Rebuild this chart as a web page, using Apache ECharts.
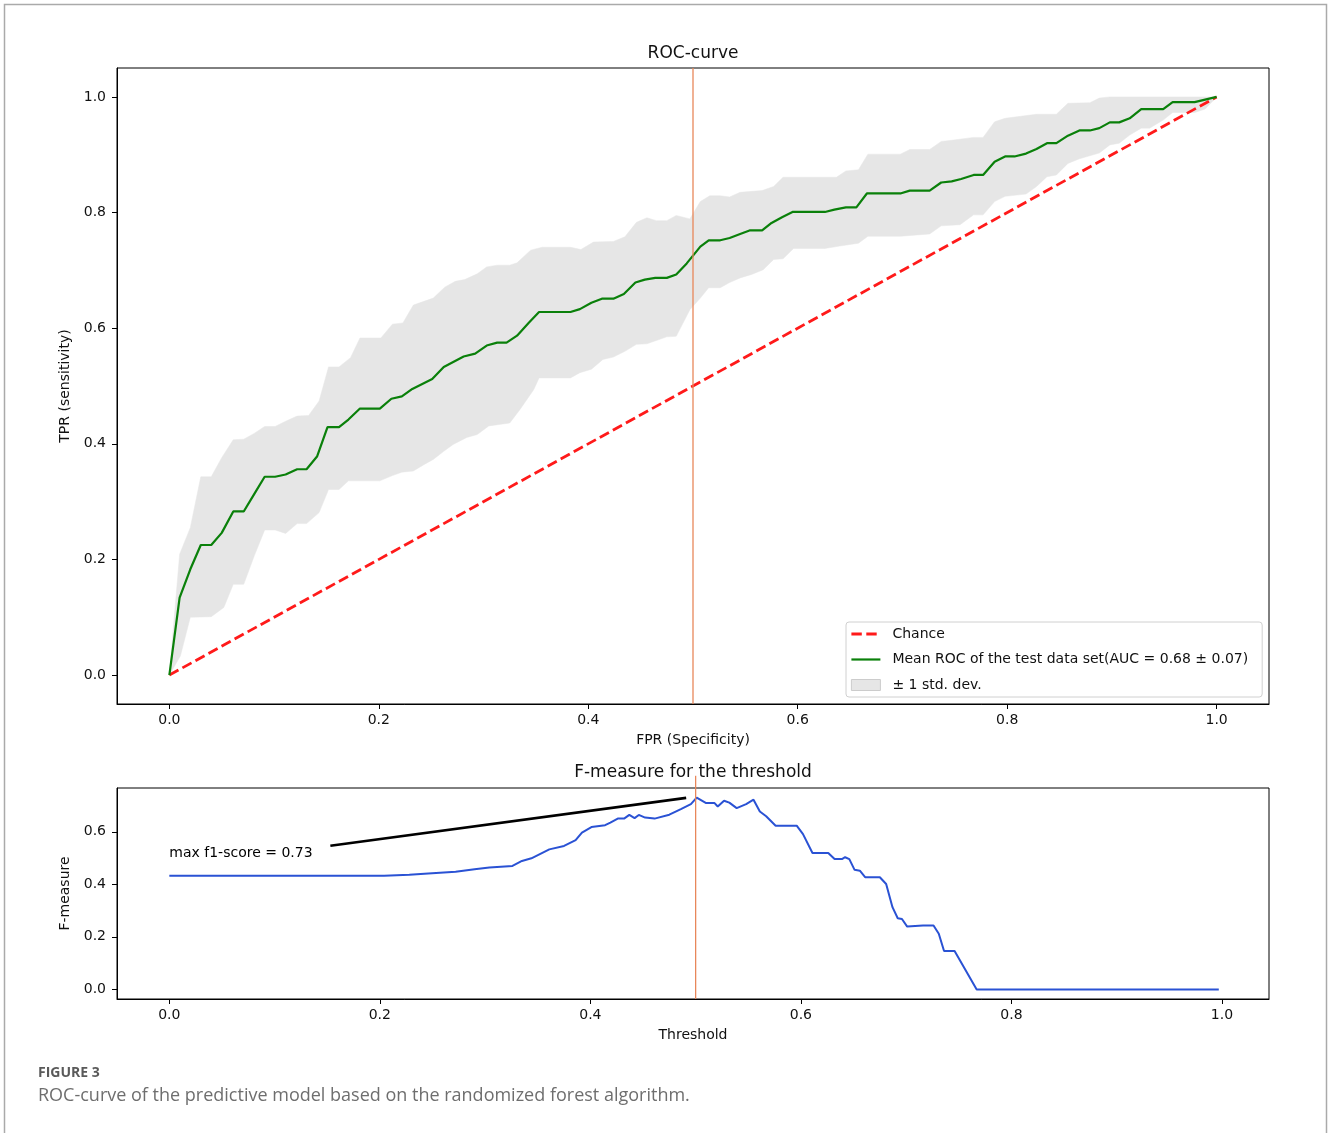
<!DOCTYPE html>
<html>
<head>
<meta charset="utf-8">
<script src="https://cdn.jsdelivr.net/npm/echarts@6/dist/echarts.min.js"></script>
<style>
html,body{margin:0;padding:0;background:#fff;}
#chart{width:1330px;height:1133px;}
</style>
</head>
<body>
<div id="chart"></div>
<script>
// ---------- DATA ----------
const xTicks = [0, 0.2, 0.4, 0.6, 0.8, 1.0];
const rocYTicks = [0, 0.2, 0.4, 0.6, 0.8, 1.0];
const fYTicks = [0, 0.2, 0.4, 0.6];

const chanceFpr = [0, 1];
const chanceTpr = [0, 1];

const meanFpr = [0,0.0098,0.020,0.030,0.040,0.050,0.061,0.071,0.081,0.091,0.101,0.111,0.122,0.131,0.141,0.151,0.162,0.171,0.182,0.201,0.212,0.222,0.232,0.251,0.262,0.281,0.292,0.303,0.313,0.322,0.332,0.343,0.353,0.383,0.392,0.403,0.413,0.424,0.434,0.445,0.454,0.464,0.475,0.484,0.494,0.507,0.515,0.526,0.535,0.545,0.554,0.566,0.575,0.585,0.595,0.626,0.635,0.646,0.656,0.666,0.698,0.707,0.726,0.737,0.747,0.756,0.768,0.777,0.788,0.798,0.807,0.818,0.828,0.838,0.847,0.858,0.869,0.879,0.888,0.898,0.907,0.917,0.928,0.949,0.958,0.979,1.0];
const meanTpr = [0,0.134,0.183,0.225,0.225,0.246,0.283,0.283,0.313,0.343,0.343,0.347,0.356,0.356,0.378,0.429,0.429,0.442,0.461,0.461,0.478,0.482,0.495,0.512,0.533,0.551,0.556,0.570,0.575,0.575,0.587,0.609,0.628,0.628,0.633,0.644,0.651,0.651,0.659,0.679,0.684,0.687,0.687,0.693,0.712,0.741,0.752,0.752,0.756,0.763,0.769,0.769,0.782,0.792,0.801,0.801,0.805,0.809,0.809,0.833,0.833,0.838,0.838,0.852,0.854,0.858,0.865,0.865,0.888,0.897,0.897,0.902,0.910,0.920,0.920,0.933,0.942,0.942,0.946,0.956,0.956,0.963,0.979,0.979,0.991,0.991,1.0];

const upperFpr = [0,0.0098,0.020,0.030,0.040,0.050,0.061,0.071,0.081,0.091,0.101,0.111,0.122,0.133,0.143,0.152,0.162,0.173,0.182,0.202,0.213,0.223,0.233,0.252,0.263,0.273,0.282,0.294,0.303,0.313,0.325,0.332,0.345,0.356,0.383,0.393,0.405,0.424,0.435,0.446,0.456,0.465,0.475,0.484,0.497,0.507,0.516,0.526,0.535,0.545,0.566,0.577,0.586,0.637,0.646,0.658,0.667,0.698,0.707,0.726,0.737,0.747,0.768,0.777,0.788,0.798,0.828,0.847,0.858,0.879,0.888,0.898,1.0];
const upperTpr = [0,0.209,0.255,0.343,0.343,0.376,0.407,0.408,0.418,0.430,0.430,0.439,0.448,0.449,0.474,0.533,0.533,0.549,0.583,0.583,0.607,0.609,0.640,0.652,0.671,0.681,0.684,0.694,0.706,0.709,0.709,0.713,0.735,0.740,0.740,0.736,0.749,0.750,0.758,0.783,0.791,0.786,0.786,0.795,0.789,0.819,0.829,0.829,0.827,0.835,0.838,0.845,0.861,0.861,0.872,0.874,0.901,0.901,0.909,0.909,0.923,0.925,0.930,0.930,0.957,0.963,0.970,0.970,0.989,0.990,0.998,1.0,1.0];

const lowerFpr = [0,0.0105,0.020,0.040,0.052,0.061,0.071,0.081,0.091,0.101,0.111,0.122,0.131,0.143,0.152,0.162,0.171,0.201,0.213,0.222,0.233,0.243,0.252,0.262,0.271,0.284,0.294,0.305,0.325,0.335,0.348,0.353,0.383,0.392,0.403,0.414,0.424,0.435,0.446,0.456,0.467,0.475,0.484,0.497,0.507,0.515,0.526,0.535,0.545,0.556,0.567,0.577,0.586,0.596,0.626,0.640,0.658,0.667,0.698,0.726,0.737,0.755,0.768,0.777,0.788,0.798,0.818,0.828,0.838,0.847,0.858,0.869,0.888,0.898,0.907,0.917,0.928,0.936,0.949,0.958,0.979,0.989,1.0];
const lowerTpr = [0,0.033,0.100,0.101,0.117,0.157,0.157,0.206,0.251,0.251,0.245,0.262,0.262,0.281,0.321,0.321,0.336,0.336,0.345,0.351,0.353,0.364,0.373,0.387,0.399,0.411,0.416,0.431,0.436,0.460,0.494,0.514,0.514,0.523,0.529,0.546,0.550,0.560,0.572,0.573,0.580,0.585,0.586,0.632,0.652,0.670,0.670,0.679,0.687,0.693,0.701,0.719,0.720,0.738,0.738,0.742,0.747,0.759,0.759,0.763,0.777,0.779,0.796,0.796,0.819,0.828,0.832,0.845,0.862,0.865,0.885,0.893,0.903,0.917,0.920,0.934,0.946,0.946,0.960,0.973,0.973,0.979,1.0];

const thresholds = [0,0.204,0.228,0.246,0.272,0.290,0.304,0.326,0.335,0.344,0.361,0.375,0.386,0.392,0.401,0.414,0.419,0.426,0.432,0.437,0.442,0.446,0.452,0.461,0.475,0.486,0.4955,0.501,0.510,0.518,0.521,0.527,0.532,0.539,0.548,0.555,0.561,0.567,0.576,0.596,0.602,0.611,0.626,0.632,0.639,0.642,0.646,0.651,0.656,0.661,0.675,0.681,0.687,0.692,0.696,0.701,0.716,0.726,0.731,0.736,0.746,0.767,0.997];
const fMeasure = [0.433,0.433,0.436,0.441,0.448,0.457,0.464,0.470,0.489,0.499,0.533,0.546,0.568,0.597,0.618,0.625,0.635,0.650,0.650,0.664,0.652,0.664,0.654,0.650,0.665,0.686,0.705,0.730,0.709,0.709,0.696,0.718,0.711,0.690,0.705,0.722,0.677,0.659,0.623,0.623,0.591,0.519,0.519,0.496,0.496,0.503,0.496,0.455,0.452,0.427,0.427,0.401,0.313,0.271,0.268,0.239,0.243,0.243,0.212,0.146,0.146,0.0,0.0];

const bestThreshold = 0.5;
const annotArrow = [[0.153, 0.547], [0.491, 0.729]];
const annotLabel = [0, 0.517];
const annotText = 'max f1-score = 0.73';

const legendNames = ['Chance', 'Mean ROC of the test data set(AUC = 0.68 \u00b1 0.07)', '\u00b1 1 std. dev.'];

// ---------- CHART ----------
const zip = (a, b) => a.map((v, i) => [v, b[i]]);
const FONT = 'DejaVu Sans';
const TXT = '#111';
const RED = '#ff1a1a', GREEN = '#0a800a', BLUE = '#2a52d4', ORANGE = '#e8875a';
const CHANCE_DASH = [10.4, 4.5];

function xAxisDef(gi, min, max, name) {
  return {
    type: 'value', gridIndex: gi, min: min, max: max,
    name: name, nameLocation: 'middle', nameGap: 29,
    nameTextStyle: {fontFamily: FONT, fontSize: 14, color: TXT},
    axisLine: {show: true, onZero: false, lineStyle: {color: '#000', width: 1}},
    axisTick: {show: true, length: 5, lineStyle: {color: '#000', width: 1}, customValues: xTicks},
    axisLabel: {fontFamily: FONT, fontSize: 14, color: TXT, margin: 9, customValues: xTicks,
      formatter: v => v.toFixed(1)},
    splitLine: {show: false}
  };
}
function yAxisDef(gi, min, max, name, ticks) {
  return {
    type: 'value', gridIndex: gi, min: min, max: max,
    name: name, nameLocation: 'middle', nameGap: 41,
    nameTextStyle: {fontFamily: FONT, fontSize: 14, color: TXT},
    axisLine: {show: true, onZero: false, lineStyle: {color: '#000', width: 1}},
    axisTick: {show: true, length: 5, lineStyle: {color: '#000', width: 1}, customValues: ticks},
    axisLabel: {fontFamily: FONT, fontSize: 14, color: TXT, margin: 11, customValues: ticks,
      formatter: v => v.toFixed(1)},
    splitLine: {show: false}
  };
}

const chart = echarts.init(document.getElementById('chart'), null, {renderer: 'canvas'});

const option = {
  backgroundColor: '#fff',
  animation: false,
  textStyle: {fontFamily: FONT},
  grid: [
    {left: 117, top: 68, width: 1152, height: 636, show: true, borderColor: '#000', borderWidth: 1, backgroundColor: 'transparent'},
    {left: 117, top: 788, width: 1152, height: 211, show: true, borderColor: '#000', borderWidth: 1, backgroundColor: 'transparent'}
  ],
  xAxis: [
    xAxisDef(0, -0.05, 1.05, 'FPR (Specificity)'),
    xAxisDef(1, -0.0497, 1.0447, 'Threshold')
  ],
  yAxis: [
    yAxisDef(0, -0.05, 1.05, 'TPR (sensitivity)', rocYTicks),
    yAxisDef(1, -0.0365, 0.7665, 'F-measure', fYTicks)
  ],
  legend: {
    left: 846, top: 622, orient: 'vertical',
    data: [
      {name: legendNames[0], itemStyle: {opacity: 0}, lineStyle: {color: RED, width: 2.8, type: CHANCE_DASH}},
      {name: legendNames[1], itemStyle: {opacity: 0}, lineStyle: {color: GREEN, width: 2.2, type: 'solid'}},
      {name: legendNames[2], icon: 'rect', itemStyle: {color: '#e6e6e6', borderColor: '#cccccc', borderWidth: 1}}
    ],
    itemWidth: 29, itemHeight: 11, itemGap: 9.5,
    padding: [4, 14, 4, 4],
    backgroundColor: '#fff', borderColor: '#d0d0d0', borderWidth: 1, borderRadius: 3,
    textStyle: {fontFamily: FONT, fontSize: 14, color: TXT, lineHeight: 16, padding: [0, 0, 0, 7]},
    selectedMode: false
  },
  series: [
    {
      name: legendNames[2], type: 'custom', xAxisIndex: 0, yAxisIndex: 0, z: 1,
      data: [[0, 0]],
      itemStyle: {color: '#e6e6e6'},
      renderItem: function (params, api) {
        const pts = [];
        for (let i = 0; i < upperFpr.length; i++) pts.push(api.coord([upperFpr[i], upperTpr[i]]));
        for (let i = lowerFpr.length - 1; i >= 0; i--) pts.push(api.coord([lowerFpr[i], lowerTpr[i]]));
        return {type: 'polygon', shape: {points: pts}, style: {fill: '#e6e6e6', stroke: '#e6e6e6', lineWidth: 0.5}};
      }
    },
    {
      name: legendNames[0], type: 'line', xAxisIndex: 0, yAxisIndex: 0, z: 3,
      data: zip(chanceFpr, chanceTpr), symbol: 'none', showSymbol: false,
      lineStyle: {color: RED, width: 2.8, type: CHANCE_DASH},
      itemStyle: {color: RED}
    },
    {
      name: legendNames[1], type: 'line', xAxisIndex: 0, yAxisIndex: 0, z: 4,
      data: zip(meanFpr, meanTpr), symbol: 'none', showSymbol: false,
      lineStyle: {color: GREEN, width: 2.2},
      itemStyle: {color: GREEN}
    },
    {
      name: 'thresholdTop', type: 'line', xAxisIndex: 0, yAxisIndex: 0, z: 5,
      data: [[bestThreshold, -0.05], [bestThreshold, 1.05]], symbol: 'none',
      lineStyle: {color: ORANGE, width: 1.3}
    },
    {
      name: 'F-measure', type: 'line', xAxisIndex: 1, yAxisIndex: 1, z: 3,
      data: zip(thresholds, fMeasure), symbol: 'none',
      lineStyle: {color: BLUE, width: 2}
    },
    {
      name: 'thresholdBottom', type: 'line', xAxisIndex: 1, yAxisIndex: 1, z: 5, clip: false,
      data: [[bestThreshold, -0.0365], [bestThreshold, 0.813]], symbol: 'none',
      lineStyle: {color: ORANGE, width: 1.3}
    },
    {
      name: 'annotArrow', type: 'line', xAxisIndex: 1, yAxisIndex: 1, z: 6,
      data: annotArrow, symbol: 'none',
      lineStyle: {color: '#000', width: 2.6}
    },
    {
      name: 'annotText', type: 'scatter', xAxisIndex: 1, yAxisIndex: 1, z: 6,
      data: [annotLabel], symbolSize: 0, itemStyle: {color: TXT, opacity: 1},
      label: {show: true, position: 'right', distance: 0, formatter: annotText,
        fontFamily: FONT, fontSize: 14, color: '#000', opacity: 1},
      silent: true
    }
  ],
  graphic: [
    {type: 'rect', shape: {x: 4.5, y: 4.5, width: 1322, height: 1150}, style: {fill: 'none', stroke: '#aaaaaa', lineWidth: 1.5}, silent: true},
    {type: 'text', x: 693, y: 54, style: {text: 'ROC-curve', font: '17px "DejaVu Sans"', fill: TXT, textAlign: 'center', textVerticalAlign: 'middle'}},
    {type: 'text', x: 693, y: 773, z: 0, style: {text: 'F-measure for the threshold', font: '17px "DejaVu Sans"', fill: TXT, textAlign: 'center', textVerticalAlign: 'middle'}},
    {type: 'text', x: 38, y: 1073, style: {text: 'FIGURE 3', font: 'bold 14px "Open Sans"', fill: '#5a5a5a', textAlign: 'left', textVerticalAlign: 'middle'}},
    {type: 'text', x: 38, y: 1096, style: {text: 'ROC-curve of the predictive model based on the randomized forest algorithm.', font: '18px "Open Sans"', fill: '#6e6e6e', textAlign: 'left', textVerticalAlign: 'middle'}}
  ]
};
chart.setOption(option);
</script>
</body>
</html>
